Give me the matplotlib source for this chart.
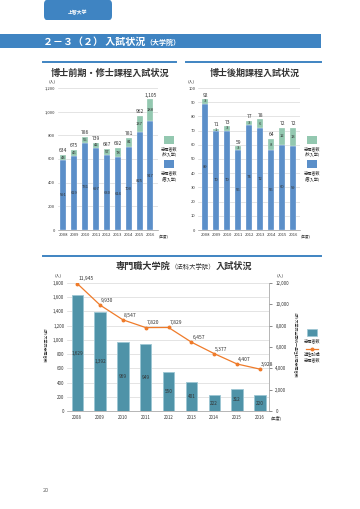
import matplotlib
matplotlib.use("Agg")
import matplotlib.pyplot as plt
from matplotlib.patches import FancyBboxPatch, Rectangle
from matplotlib.lines import Line2D

plt.rcParams['font.family'] = ['Noto Sans CJK JP', 'DejaVu Sans']

years = ['2008', '2009', '2010', '2011', '2012', '2013', '2014', '2015', '2016']

# 博士前期・修士課程
m_spring = [591, 629, 731, 697, 630, 614, 700, 825, 917]
m_autumn = [43, 46, 55, 42, 57, 78, 81, 137, 188]

# 博士後期課程
d_spring = [89, 70, 70, 56, 74, 72, 56, 60, 59]
d_autumn = [3, 1, 3, 3, 3, 6, 8, 12, 13]

# 専門職大学院（法科大学院）
law_applicants = [1629, 1392, 969, 949, 550, 401, 222, 312, 220]
aptitude_applicants = [11945, 9930, 8547, 7820, 7829, 6457, 5377, 4407, 3928]

W, H = 360, 509
fig = plt.figure(figsize=(W / 100, H / 100), dpi=100)
fig.patch.set_facecolor('white')
renderer = fig.canvas.get_renderer()

BLUE = '#5b8fc9'
GREEN = '#93c8b0'
TEAL = '#4f93a8'
ORANGE = '#ef7b2a'
HEAD = '#3f84c2'
GRID = '#d9d9d9'
TXT = '#333333'


def ax_px(x0, y0, x1, y1):
    return fig.add_axes([x0 / W, 1 - y1 / H, (x1 - x0) / W, (y1 - y0) / H])


def fx(x):
    return x / W


def fy(y):
    return 1 - y / H


def chain(x_start, y, parts, color):
    """Place text parts one after another starting at pixel x_start."""
    x = x_start
    for s, size, weight, dy in parts:
        t = fig.text(fx(x), fy(y + dy), s, fontsize=size, fontweight=weight, color=color,
                     ha='left', va='center')
        x += t.get_window_extent(renderer).width
    return x


# header tab
fig.patches.append(FancyBboxPatch((fx(44), fy(20)), fx(112) - fx(44), fy(0) - fy(20),
                                  boxstyle='round,pad=0,rounding_size=0.008',
                                  transform=fig.transFigure, facecolor=HEAD, edgecolor='none'))
fig.text(fx(78), fy(13), '上智大学', color='white', fontsize=3.5, ha='center', va='center', fontweight='bold')

# title band
fig.patches.append(Rectangle((0, fy(48)), fx(321), fy(34) - fy(48),
                             transform=fig.transFigure, facecolor=HEAD, edgecolor='none'))
chain(43, 41.5, [('２－３（２） 入試状況', 7.2, 'bold', 0), ('（大学院）', 5, 'bold', 0.5)], 'white')

# section lines
for (x0, x1, y) in [(43, 176, 62), (186, 321, 62), (43, 321, 256)]:
    fig.lines.append(Line2D([fx(x0), fx(x1)], [fy(y), fy(y)], transform=fig.transFigure,
                            color=HEAD, linewidth=1.4))

fig.text(fx(110), fy(73), '博士前期・修士課程入試状況', fontsize=6.6, ha='center', va='center',
         fontweight='bold', color=TXT)
fig.text(fx(255), fy(73), '博士後期課程入試状況', fontsize=6.5, ha='center', va='center',
         fontweight='bold', color=TXT)
chain(116, 266, [('専門職大学院', 6.6, 'bold', 0), ('（法科大学院）', 4.6, 'normal', 0.5),
                 ('入試状況', 6.6, 'bold', 0)], TXT)


def style_axes(ax):
    for s in ['top', 'right', 'left']:
        ax.spines[s].set_visible(False)
    ax.spines['bottom'].set_color('#999999')
    ax.spines['bottom'].set_linewidth(0.5)
    ax.yaxis.grid(True, color=GRID, linewidth=0.5)
    ax.set_axisbelow(True)
    ax.tick_params(axis='both', length=0, labelsize=3, colors=TXT, pad=2)


def stacked(ax, spring, autumn, ymax, step, fmt, xlim):
    x = list(range(len(years)))
    ax.bar(x, spring, width=0.55, color=BLUE, edgecolor='white', linewidth=0.2)
    ax.bar(x, autumn, bottom=spring, width=0.55, color=GREEN, edgecolor='white', linewidth=0.2)
    for i in x:
        s, a = spring[i], autumn[i]
        ax.text(i, s / 2, fmt(s), fontsize=3, ha='center', va='center', color=TXT)
        ax.text(i, s + a / 2, fmt(a), fontsize=3, ha='center', va='center', color=TXT)
        ax.text(i, s + a + ymax * 0.012, fmt(s + a), fontsize=3.6, ha='center', va='bottom', color=TXT)
    ax.set_ylim(0, ymax)
    ax.set_xlim(*xlim)
    ax.set_yticks(range(0, ymax + 1, step))
    ax.set_yticklabels([fmt(v) for v in range(0, ymax + 1, step)])
    ax.set_xticks(x)
    ax.set_xticklabels(years, fontsize=2.6)
    style_axes(ax)


fmt_c = lambda v: f'{v:,}'

ax1 = ax_px(58, 88, 158, 230)
stacked(ax1, m_spring, m_autumn, 1200, 200, fmt_c, (-0.5, 8.7))
ax1.text(8.75, -0.038 * 1200, '(年度)', fontsize=2.6, ha='left', va='top', color=TXT)
fig.text(fx(52), fy(81), '(人)', fontsize=3, ha='center', va='center', color=TXT)

ax2 = ax_px(198, 88, 300, 230)
stacked(ax2, d_spring, d_autumn, 100, 10, fmt_c, (-0.65, 8.6))
ax2.text(8.65, -0.038 * 100, '(年度)', fontsize=2.6, ha='left', va='top', color=TXT)
fig.text(fx(191), fy(81), '(人)', fontsize=3, ha='center', va='center', color=TXT)

# legends for first two charts
for lx in (164, 307):
    fig.patches.append(Rectangle((fx(lx), fy(144)), fx(10), fy(136) - fy(144), transform=fig.transFigure,
                                 facecolor=GREEN, edgecolor='none'))
    fig.text(fx(lx + 5), fy(152), '志願者数\n(秋入学)', fontsize=3, ha='center', va='center',
             color=TXT, linespacing=1.3)
    fig.patches.append(Rectangle((fx(lx), fy(168)), fx(10), fy(160) - fy(168), transform=fig.transFigure,
                                 facecolor=BLUE, edgecolor='none'))
    fig.text(fx(lx + 5), fy(176), '志願者数\n(春入学)', fontsize=3, ha='center', va='center',
             color=TXT, linespacing=1.3)

# law school chart
ax3 = ax_px(67, 283, 269, 411)
x = list(range(len(years)))
ax3.bar(x, law_applicants, width=0.5, color=TEAL, edgecolor='#9cc6d3', linewidth=0.6)
for i in x:
    ax3.text(i, law_applicants[i] / 2, fmt_c(law_applicants[i]), fontsize=3.4, ha='center',
             va='center', color=TXT)
ax3.set_ylim(0, 1800)
ax3.set_xlim(-0.45, 8.4)
ax3.set_yticks(range(0, 1801, 200))
ax3.set_yticklabels([fmt_c(v) for v in range(0, 1801, 200)])
ax3.set_xticks(x)
ax3.set_xticklabels(years)
style_axes(ax3)
ax3.tick_params(labelsize=3.2)
ax3.tick_params(axis='x', pad=3)
ax3.text(8.45, -0.03 * 1800, '(年度)', fontsize=3, ha='left', va='top', color=TXT)

ax4 = ax3.twinx()
ax4.plot(x, aptitude_applicants, color=ORANGE, linewidth=0.9, marker='o', markersize=1.8)
for i in x:
    ax4.text(i + 0.05, aptitude_applicants[i] + 200, fmt_c(aptitude_applicants[i]), fontsize=3.6,
             ha='left', va='bottom', color=TXT)
ax4.set_ylim(0, 12000)
ax4.set_yticks(range(0, 12001, 2000))
ax4.set_yticklabels([fmt_c(v) for v in range(0, 12001, 2000)])
for s in ['top', 'left', 'bottom']:
    ax4.spines[s].set_visible(False)
ax4.spines['right'].set_color('#999999')
ax4.spines['right'].set_linewidth(0.5)
ax4.tick_params(axis='y', length=2.5, width=0.4, colors=TXT, labelsize=3.2, pad=2)

fig.text(fx(58), fy(275), '(人)', fontsize=3, ha='center', va='center', color=TXT)
fig.text(fx(280), fy(275), '(人)', fontsize=3, ha='center', va='center', color=TXT)

fig.text(fx(44), fy(345), '法科大学院志願者数', fontsize=2.8, rotation=-90, ha='center', va='center',
         color=TXT)
fig.text(fx(295), fy(345), '法科大学院全国統一適性試験志願者数', fontsize=2.8, rotation=-90,
         ha='center', va='center', color=TXT)

# legend chart 3
fig.patches.append(Rectangle((fx(307), fy(336)), fx(10), fy(329) - fy(336), transform=fig.transFigure,
                             facecolor=TEAL, edgecolor='#9cc6d3', linewidth=0.5))
fig.text(fx(312), fy(341), '志願者数', fontsize=3, ha='center', va='center', color=TXT)
fig.lines.append(Line2D([fx(306), fx(318)], [fy(349), fy(349)], transform=fig.transFigure,
                        color=ORANGE, linewidth=0.9))
fig.lines.append(Line2D([fx(312)], [fy(349)], transform=fig.transFigure,
                        color=ORANGE, marker='o', markersize=1.8, linestyle='none'))
fig.text(fx(312), fy(357), '適性試験\n志願者数', fontsize=3, ha='center', va='center', color=TXT,
         linespacing=1.3)

fig.text(fx(43), fy(490), '20', fontsize=4, ha='left', va='center', color='#666666')

fig.savefig('out.png', dpi=100, facecolor='white')
